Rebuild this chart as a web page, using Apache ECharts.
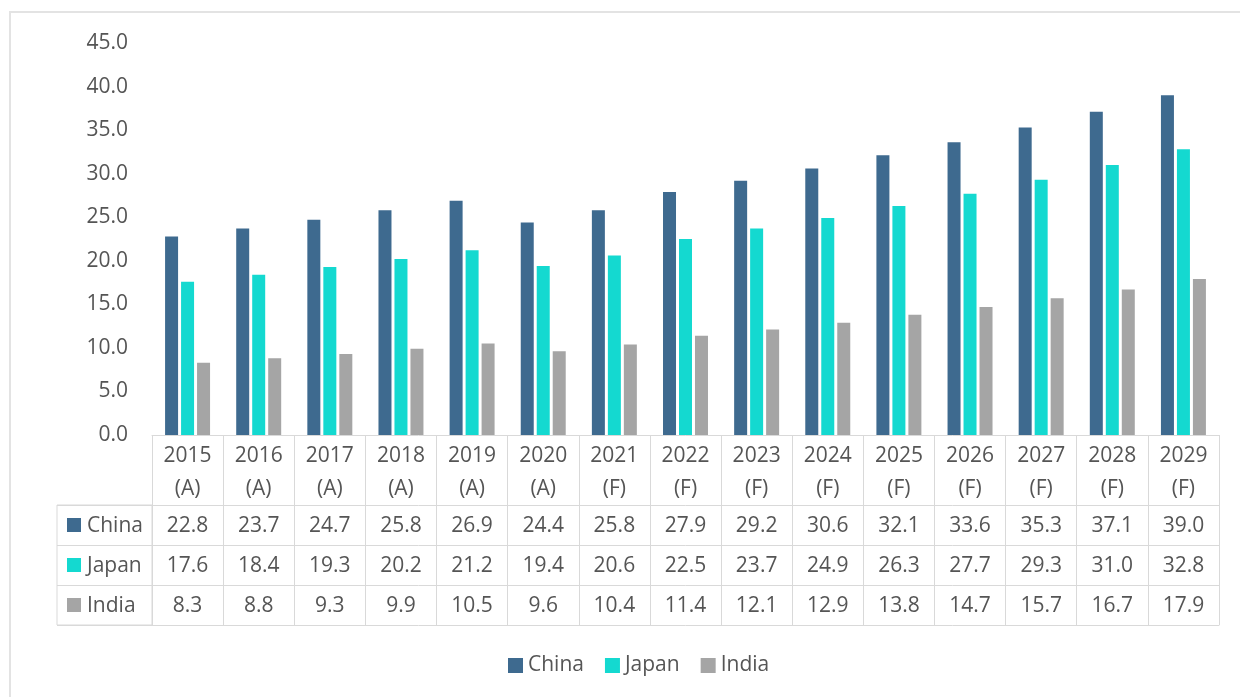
<!DOCTYPE html>
<html>
<head>
<meta charset="utf-8">
<script src="https://cdn.jsdelivr.net/npm/echarts@6/dist/echarts.min.js"></script>
<style>
html,body{margin:0;padding:0;background:#fff;}
#chart{width:1240px;height:697px;}
</style>
</head>
<body>
<div id="chart"></div>
<script>
const years = ['2015','2016','2017','2018','2019','2020','2021','2022','2023','2024','2025','2026','2027','2028','2029'];
const yearTags = ['(A)','(A)','(A)','(A)','(A)','(A)','(F)','(F)','(F)','(F)','(F)','(F)','(F)','(F)','(F)'];
const seriesNames = ['China','Japan','India'];
const china = [22.8,23.7,24.7,25.8,26.9,24.4,25.8,27.9,29.2,30.6,32.1,33.6,35.3,37.1,39.0];
const japan = [17.6,18.4,19.3,20.2,21.2,19.4,20.6,22.5,23.7,24.9,26.3,27.7,29.3,31.0,32.8];
const india = [8.3,8.8,9.3,9.9,10.5,9.6,10.4,11.4,12.1,12.9,13.8,14.7,15.7,16.7,17.9];
const yMin = 0, yMax = 45, yStep = 5;

const colors = ['#3e6a8f','#14d9d0','#a5a5a5'];
const textColor = '#555555';
const lineColor = '#d9d9d9';
const FONT = 'Open Sans';
const FS = 21;

const values = [china, japan, india];
const categories = years.map((y,i)=> y + '\n' + yearTags[i]);

const chart = echarts.init(document.getElementById('chart'), null, {renderer:'canvas'});

const rowAxis = (data, offset) => ({
  type:'category', gridIndex:0, position:'bottom', offset: offset,
  data: data.map(v=>v.toFixed(1)),
  boundaryGap:true,
  axisLine:{show:true, lineStyle:{color:lineColor, width:1}},
  axisTick:{show:false},
  axisLabel:{show:true, interval:0, margin:10, color:textColor, fontFamily:FONT, fontSize:FS, lineHeight:22}
});

const option = {
  animation:false,
  backgroundColor:'#fff',
  color: colors,
  graphic:[{type:'rect', silent:true, shape:{x:10,y:12,width:1400,height:900},
    style:{fill:'none', stroke:'#e3e3e3', lineWidth:2}}],
  grid:[
    {left:152, right:21, top:43, bottom:262, containLabel:false},
    {left:57, width:95, top:505, height:120, show:true, borderColor:lineColor, borderWidth:1, backgroundColor:'transparent'}
  ],
  legend:{
    data: seriesNames, bottom: 16, left:503,
    icon:'rect', itemWidth:15, itemHeight:15, itemGap:21,
    textStyle:{color:textColor, fontFamily:FONT, fontSize:FS}
  },
  xAxis:[
    {type:'category', gridIndex:0, data:categories, boundaryGap:true, position:'bottom',
      axisLine:{show:true, lineStyle:{color:lineColor, width:1}},
      axisTick:{show:true, interval:0, alignWithLabel:false, length:190, lineStyle:{color:lineColor, width:1}},
      axisLabel:{interval:0, margin:5, color:textColor, fontFamily:FONT, fontSize:FS, lineHeight:33}
    },
    rowAxis(china, 70),
    rowAxis(japan, 110),
    rowAxis(india, 150),
    {type:'category', gridIndex:0, position:'bottom', offset:190, data:years,
      axisLine:{show:true, lineStyle:{color:lineColor, width:1}},
      axisTick:{show:false}, axisLabel:{show:false}},
    {type:'value', gridIndex:1, show:false, min:0, max:1}
  ],
  yAxis:[
    {type:'value', gridIndex:0, min:yMin, max:yMax, interval:yStep,
      axisLine:{show:false}, axisTick:{show:false}, splitLine:{show:false},
      axisLabel:{margin:24, color:textColor, fontFamily:FONT, fontSize:FS, padding:[4,0,0,0], formatter:v=>v.toFixed(1)}
    },
    {type:'category', gridIndex:1, inverse:true, data:seriesNames, boundaryGap:true,
      axisLine:{show:false}, axisTick:{show:false},
      splitLine:{show:true, lineStyle:{color:lineColor, width:1}},
      axisLabel:{inside:true, margin:10, align:'left', color:textColor, fontFamily:FONT, fontSize:FS,
        formatter:(v, i)=> '{s' + i + '|}{t|' + v + '}',
        rich:{
          s0:{width:14, height:14, backgroundColor:colors[0]},
          s1:{width:14, height:14, backgroundColor:colors[1]},
          s2:{width:14, height:14, backgroundColor:colors[2]},
          t:{padding:[2,0,0,6], color:textColor, fontFamily:FONT, fontSize:FS}
        }
      }
    }
  ],
  series: seriesNames.map((n,i)=>({
    name:n, type:'bar', xAxisIndex:0, yAxisIndex:0,
    data: values[i], barWidth:13, barGap:'23%',
    itemStyle:{color:colors[i]}
  }))
};
chart.setOption(option);
</script>
</body>
</html>
